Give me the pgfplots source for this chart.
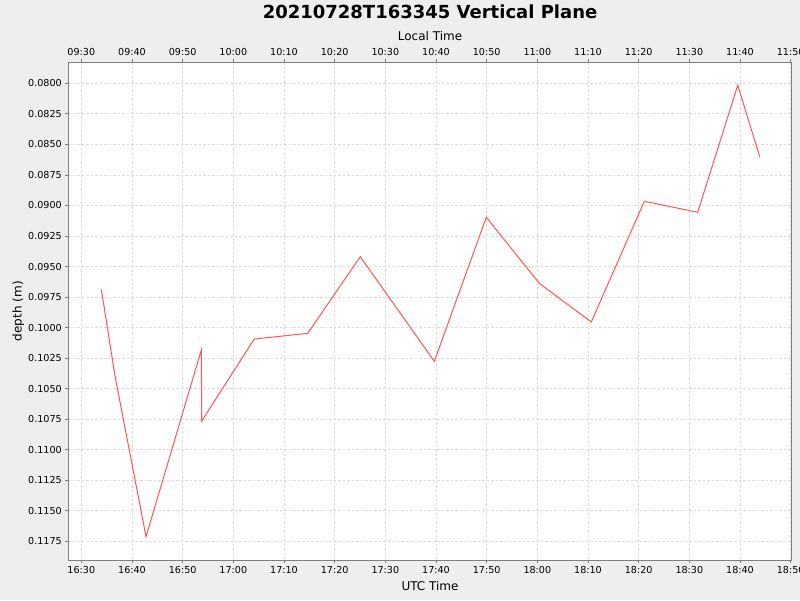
\documentclass[border=0pt]{standalone}
\usepackage{pgfplots}
\pgfplotsset{compat=1.18}
\usepackage{fontspec}
\setmainfont{DejaVu Sans}
\definecolor{bg}{HTML}{EEEEEE}
\definecolor{series}{HTML}{FF5555}
\definecolor{gridc}{HTML}{DADADA}
\definecolor{framec}{HTML}{808080}
\begin{document}
\begin{tikzpicture}[x=1pt,y=1pt]
\useasboundingbox (0,0) rectangle (800,600);
\fill[bg] (0,0) rectangle (800,600);
\pgfplotsset{
  myaxis/.style={
    scale only axis, width=723.4pt, height=497.7pt,
    at={(68.3pt,40pt)}, anchor=south west,
    xmin=27.43, xmax=170.2, ymin=0.07828, ymax=0.11903, y dir=reverse,
    axis line style={framec, line width=1pt},
    tick style={framec, line width=0.8pt},
    tick align=outside, major tick length=3pt,
    ticklabel style={font=\fontsize{9.6}{11}\selectfont, black},
    /pgf/number format/assume math mode=true,
    label style={font=\fontsize{12}{14}\selectfont},
    xtick={30,40,...,170},
  }
}
\begin{axis}[myaxis,
  axis background/.style={fill=white},
  xticklabels={16:30,16:40,16:50,17:00,17:10,17:20,17:30,17:40,17:50,18:00,18:10,18:20,18:30,18:40,18:50},
  ytick={0.08,0.0825,0.085,0.0875,0.09,0.0925,0.095,0.0975,0.1,0.1025,0.105,0.1075,0.11,0.1125,0.115,0.1175},
  yticklabel style={/pgf/number format/.cd, fixed, fixed zerofill, precision=4},
  grid=major, grid style={gridc, dash pattern=on 2.5pt off 2pt, line width=0.8pt},
  xtick pos=bottom, ytick pos=left,
  xlabel={UTC Time}, ylabel={depth (m)},
  xlabel style={at={(axis description cs:0.5,0)}, anchor=center, yshift=-26pt},
  ylabel style={at={(axis description cs:0,0.5)}, anchor=center, yshift=50pt},
  title={20210728T163345 Vertical Plane},
  title style={at={(axis description cs:0.5,1)}, anchor=center, yshift=45pt, font=\bfseries\fontsize{18}{22}\selectfont},
]
\addplot[series, line width=1pt] coordinates {
(33.95,0.09687)
(36.65,0.10397)
(42.77,0.11712)
(53.68,0.10184)
(53.76,0.10765)
(64.12,0.10094)
(74.68,0.10047)
(85.06,0.09420)
(99.67,0.10276)
(109.93,0.09097)
(120.39,0.09638)
(130.65,0.09954)
(141.11,0.08966)
(151.65,0.09056)
(159.55,0.08016)
(163.89,0.08601)
};
\end{axis}
\begin{axis}[myaxis,
  axis x line*=top, axis y line=none,
  xticklabels={09:30,09:40,09:50,10:00,10:10,10:20,10:30,10:40,10:50,11:00,11:10,11:20,11:30,11:40,11:50},
  xlabel={Local Time},
  xlabel style={at={(axis description cs:0.5,1)}, anchor=center, yshift=26pt},
]
\end{axis}
\end{tikzpicture}
\end{document}
